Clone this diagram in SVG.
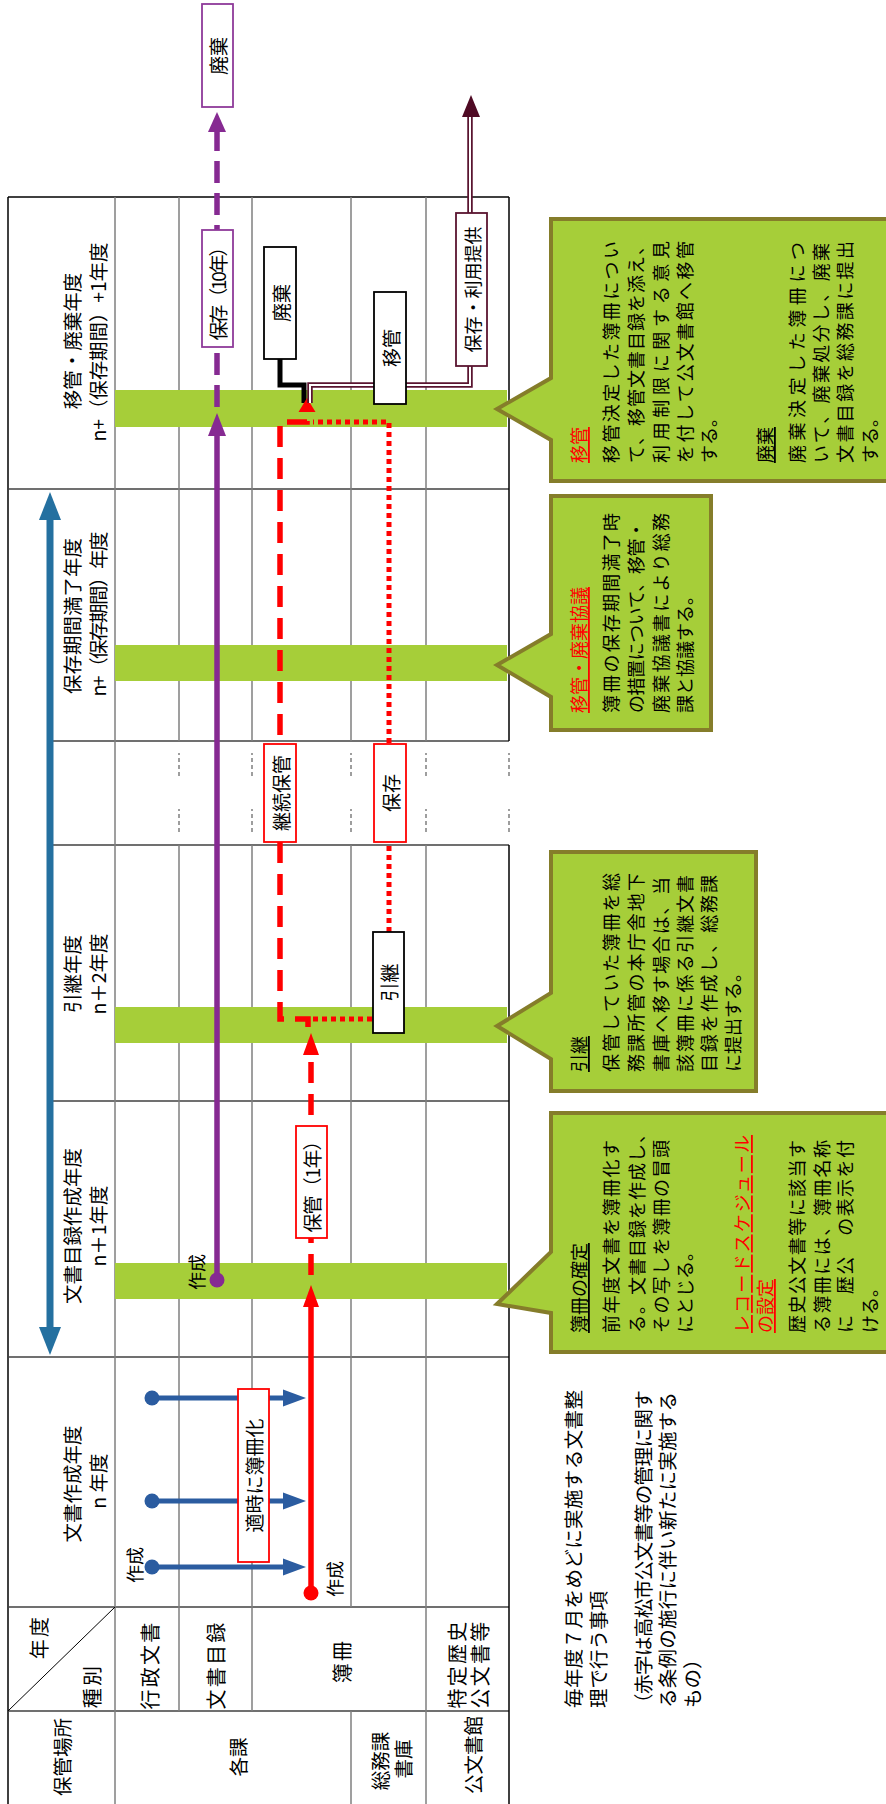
<svg xmlns="http://www.w3.org/2000/svg" width="886" height="1804" viewBox="0 0 886 1804">
<style>
text{font-family:"Noto Sans CJK JP","Noto Sans CJK SC",sans-serif;fill:#000;dominant-baseline:central}
.hd{font-size:20px;letter-spacing:2.3px;text-anchor:middle}
.hb{font-size:19.5px;text-anchor:middle}
.yr{font-size:19.5px;text-anchor:middle}
.lb{font-size:19px;text-anchor:middle}
.sm{font-size:18px;text-anchor:middle}
.ct{font-size:18px}
.red{fill:#ff0000}
.ul{text-decoration:underline}
.bd{stroke:#000;stroke-width:1.5}
.row{stroke:#404040;stroke-width:1.5}
.col{stroke:#7f7f7f;stroke-width:1.5}
.gap{stroke:#7f7f7f;stroke-width:1.5;stroke-dasharray:4 3}
.band{fill:#a6ce39}
.callout{fill:#a6ce39;stroke:#857d2a;stroke-width:4}
.box{fill:#fff;stroke-width:1.8}
.rb{stroke:#ff0000}
.kb{stroke:#000}
.pb{stroke:#8e3a9a}
.mb{stroke:#5a1430}
</style>
<rect width="886" height="1804" fill="#fff"/>
<g transform="matrix(0,-1,1,0,0,1804)">
<g id="table" fill="none">
<line class="bd" x1="0" y1="8" x2="1607" y2="8"/>
<line class="bd" x1="1607" y1="8" x2="1607" y2="509"/>
<line class="row" x1="93" y1="8" x2="93" y2="509"/>
<line class="row" x1="197" y1="8" x2="197" y2="509"/>
<line class="row" x1="447" y1="8" x2="447" y2="509"/>
<line class="row" x1="703" y1="53" x2="703" y2="509"/>
<line class="row" x1="959" y1="53" x2="959" y2="509"/>
<line class="row" x1="1063" y1="53" x2="1063" y2="509"/>
<line class="row" x1="1315" y1="8" x2="1315" y2="509"/>
<line class="col" x1="0" y1="115" x2="1607" y2="115"/>
<line class="col" x1="93" y1="179" x2="959" y2="179"/>
<line class="col" x1="1063" y1="179" x2="1607" y2="179"/>
<line class="col" x1="93" y1="252" x2="959" y2="252"/>
<line class="col" x1="1063" y1="252" x2="1607" y2="252"/>
<line class="col" x1="0" y1="351" x2="93" y2="351"/>
<line class="col" x1="197" y1="351" x2="959" y2="351"/>
<line class="col" x1="1063" y1="351" x2="1607" y2="351"/>
<line class="col" x1="0" y1="426" x2="959" y2="426"/>
<line class="col" x1="1063" y1="426" x2="1607" y2="426"/>
<line class="bd" x1="0" y1="509" x2="959" y2="509"/>
<line class="bd" x1="1063" y1="509" x2="1607" y2="509"/>
<g class="gap">
<line x1="972" y1="179" x2="995" y2="179"/><line x1="1028" y1="179" x2="1051" y2="179"/>
<line x1="972" y1="252" x2="995" y2="252"/><line x1="1028" y1="252" x2="1051" y2="252"/>
<line x1="972" y1="351" x2="995" y2="351"/><line x1="1028" y1="351" x2="1051" y2="351"/>
<line x1="972" y1="426" x2="995" y2="426"/><line x1="1028" y1="426" x2="1051" y2="426"/>
<line x1="972" y1="509" x2="995" y2="509"/><line x1="1028" y1="509" x2="1051" y2="509"/>
</g>
<line stroke="#000" stroke-width="1" x1="93" y1="8" x2="197" y2="115"/>
</g>
<g id="headers">
<text class="hd" x="167" y="38">年度</text>
<text class="hd" x="118" y="91">種別</text>
<text class="hd" x="139" y="149">行政文書</text>
<text class="hd" x="139" y="215">文書目録</text>
<text class="hd" x="143" y="341">簿冊</text>
<text class="hd" x="140" y="456">特定歴史</text>
<text class="hd" x="140" y="479">公文書等</text>
<text class="hb" x="47" y="61">保管場所</text>
<text class="hb" x="47" y="237">各課</text>
<text class="hb" x="43" y="379">総務課</text>
<text class="hb" x="45" y="402">書庫</text>
<text class="hb" x="49" y="472">公文書館</text>
<text class="yr" x="320" y="71">文書作成年度</text>
<text class="yr" x="323" y="97">n 年度</text>
<text class="yr" x="578" y="71">文書目録作成年度</text>
<text class="yr" x="578" y="97">n＋1年度</text>
<text class="yr" x="830" y="71">引継年度</text>
<text class="yr" x="830" y="97">n＋2年度</text>
<text class="yr" x="1188" y="71">保存期間満了年度</text>
<text class="yr" x="1190" y="97" textLength="165" lengthAdjust="spacing">n+（保存期間）年度</text>
<text class="yr" x="1463" y="71">移管・廃棄年度</text>
<text class="yr" x="1462" y="97" textLength="199" lengthAdjust="spacing">n+（保存期間）+1年度</text>
</g>
<g id="bands">
<rect class="band" x="505" y="115" width="36" height="392"/>
<rect class="band" x="761" y="115" width="36" height="392"/>
<rect class="band" x="1123" y="115" width="36" height="392"/>
<rect class="band" x="1377" y="115" width="37" height="392"/>
</g>
<g id="callout1">
<path class="callout" d="M452,551 L491,551 L500,497 L552,551 L691,551 L691,892 L452,892 Z"/>
<text class="ct ul" x="471" y="578">簿冊の確定</text>
<text class="ct" x="471" y="610" textLength="193" lengthAdjust="spacing">前年度文書を簿冊化す</text>
<text class="ct" x="471" y="636" textLength="208" lengthAdjust="spacing">る。文書目録を作成し、</text>
<text class="ct" x="471" y="660" textLength="193" lengthAdjust="spacing">その写しを簿冊の冒頭</text>
<text class="ct" x="471" y="684">にとじる。</text>
<text class="ct red ul" x="471" y="741" textLength="198" lengthAdjust="spacing">レコードスケジュール</text>
<text class="ct red ul" x="471" y="764">の設定</text>
<text class="ct" x="471" y="796" textLength="193" lengthAdjust="spacing">歴史公文書等に該当す</text>
<text class="ct" x="471" y="821" textLength="193" lengthAdjust="spacing">る簿冊には、簿冊名称</text>
<text class="ct" x="471" y="844" textLength="193" lengthAdjust="spacing">に　歴公　の表示を付</text>
<text class="ct" x="471" y="869">ける。</text>
</g>
<g id="callout2">
<path class="callout" d="M713,551 L745,551 L778,497 L811,551 L952,551 L952,756 L713,756 Z"/>
<text class="ct ul" x="732" y="578">引継</text>
<text class="ct" x="732" y="610" textLength="199" lengthAdjust="spacing">保管していた簿冊を総</text>
<text class="ct" x="732" y="635" textLength="199" lengthAdjust="spacing">務課所管の本庁舎地下</text>
<text class="ct" x="732" y="660" textLength="195" lengthAdjust="spacing">書庫へ移す場合は、当</text>
<text class="ct" x="732" y="684" textLength="197" lengthAdjust="spacing">該簿冊に係る引継文書</text>
<text class="ct" x="732" y="708" textLength="197" lengthAdjust="spacing">目録を作成し、総務課</text>
<text class="ct" x="732" y="732">に提出する。</text>
</g>
<g id="callout3">
<path class="callout" d="M1074,551 L1107,551 L1139,497 L1170,551 L1308,551 L1308,711 L1074,711 Z"/>
<text class="ct red ul" x="1091" y="578">移管・廃棄協議</text>
<text class="ct" x="1091" y="610" textLength="200" lengthAdjust="spacing">簿冊の保存期間満了時</text>
<text class="ct" x="1091" y="635" textLength="192" lengthAdjust="spacing">の措置について、移管・</text>
<text class="ct" x="1091" y="660" textLength="200" lengthAdjust="spacing">廃棄協議書により総務</text>
<text class="ct" x="1091" y="684">課と協議する。</text>
</g>
<g id="callout4">
<path class="callout" d="M1323,551 L1364,551 L1395,497 L1426,551 L1585,551 L1585,892 L1323,892 Z"/>
<text class="ct red ul" x="1341" y="578">移管</text>
<text class="ct" x="1341" y="610" textLength="222" lengthAdjust="spacing">移管決定した簿冊につい</text>
<text class="ct" x="1341" y="635" textLength="226" lengthAdjust="spacing">て、移管文書目録を添え、</text>
<text class="ct" x="1341" y="660" textLength="222" lengthAdjust="spacing">利用制限に関する意見</text>
<text class="ct" x="1341" y="684" textLength="222" lengthAdjust="spacing">を付して公文書館へ移管</text>
<text class="ct" x="1341" y="708">する。</text>
<text class="ct ul" x="1341" y="764">廃棄</text>
<text class="ct" x="1341" y="796" textLength="221" lengthAdjust="spacing">廃棄決定した簿冊につ</text>
<text class="ct" x="1341" y="820" textLength="220" lengthAdjust="spacing">いて、廃棄処分し、廃棄</text>
<text class="ct" x="1341" y="844" textLength="222" lengthAdjust="spacing">文書目録を総務課に提出</text>
<text class="ct" x="1341" y="869">する。</text>
</g>
<g id="note">
<text class="ct" style="font-size:19.5px" x="96" y="572" textLength="318" lengthAdjust="spacing">毎年度７月をめどに実施する文書整</text>
<text class="ct" style="font-size:19.5px" x="96" y="597">理で行う事項</text>
<text class="ct" style="font-size:19.5px" x="91" y="642" textLength="323" lengthAdjust="spacing">（赤字は高松市公文書等の管理に関す</text>
<text class="ct" style="font-size:19.5px" x="96" y="666" textLength="316" lengthAdjust="spacing">る条例の施行に伴い新たに実施する</text>
<text class="ct" style="font-size:19.5px" x="96" y="691">もの）</text>
</g>
<g id="connectors">
<g id="period-arrow" fill="#2470a0">
<line x1="470" y1="50" x2="1290" y2="50" stroke="#2470a0" stroke-width="7"/>
<polygon points="449,50 477,39 477,61"/>
<polygon points="1312,50 1284,39 1284,61"/>
</g>
<g fill="#2b5ca0" stroke="#2b5ca0">
<circle cx="406" cy="152" r="7.5" stroke="none"/><line x1="406" y1="152" x2="406" y2="285" stroke-width="5"/><polygon points="406,306 397.5,283 414.5,283" stroke="none"/>
<circle cx="303" cy="152" r="7.5" stroke="none"/><line x1="303" y1="152" x2="303" y2="285" stroke-width="5"/><polygon points="303,306 294.5,283 311.5,283" stroke="none"/>
<circle cx="237" cy="152" r="7.5" stroke="none"/><line x1="237" y1="152" x2="237" y2="285" stroke-width="5"/><polygon points="237,306 228.5,283 245.5,283" stroke="none"/>
</g>
<g fill="#ff0000">
<circle cx="211" cy="311" r="7.5"/>
<line x1="211" y1="311" x2="499" y2="311" stroke="#ff0000" stroke-width="5.5"/>
<polygon points="519,311 497,303 497,319"/>
<line x1="529" y1="311" x2="750" y2="311" stroke="#ff0000" stroke-width="5.5" stroke-dasharray="21 11"/>
<polygon points="771,311 749,303 749,319"/>
<path d="M777,308 L785,308 L785,280 L1382,280 L1382,307 L1394,307" fill="none" stroke="#ff0000" stroke-width="5.5" stroke-dasharray="21 11"/>
<path d="M785,313 L785,373 M872,389 L1382,389 L1382,313" fill="none" stroke="#ff0000" stroke-width="5" stroke-dasharray="5 4"/>
</g>
<path d="M1445,280 L1419,280 L1419,304 L1401,304" fill="none" stroke="#000" stroke-width="5"/>
<polygon points="1406,307 1392,298.5 1392,315.5" fill="#ff0000"/>
<path d="M1401,310 L1419,310 L1419,470 L1688,470" fill="none" stroke="#5a1430" stroke-width="5.5"/>
<path d="M1401,310 L1419,310 L1419,470 L1688,470" fill="none" stroke="#fff" stroke-width="2"/>
<polygon points="1709,471 1687,462 1687,480" fill="#4f0a24"/>
<g fill="#862a92">
<circle cx="524" cy="217" r="7.5"/>
<line x1="524" y1="217" x2="1370" y2="217" stroke="#862a92" stroke-width="5.5"/>
<polygon points="1391,217 1368,208 1368,226"/>
<line x1="1397" y1="217" x2="1673" y2="217" stroke="#862a92" stroke-width="5.5" stroke-dasharray="22 10"/>
<polygon points="1692,217 1672,208 1672,226"/>
</g>
<text class="sm" x="239" y="134">作成</text>
<text class="sm" x="225" y="334">作成</text>
<text class="sm" x="532" y="196">作成</text>
</g>
<g id="node-tekiji"><rect class="box rb" x="242" y="238" width="173" height="31"/><text class="lb" x="328.5" y="253.5">適時に簿冊化</text></g>
<g id="node-hokan1"><rect class="box rb" x="566" y="296" width="112" height="31"/><text class="lb" x="622" y="311.5" textLength="101" lengthAdjust="spacing">保管（1年）</text></g>
<g id="node-hikitsugi"><rect class="box kb" x="771" y="373" width="101" height="31"/><text class="lb" x="821.5" y="388.5">引継</text></g>
<g id="node-keizoku"><rect class="box rb" x="962" y="264" width="98" height="32"/><text class="lb" x="1011" y="280">継続保管</text></g>
<g id="node-hozon"><rect class="box rb" x="962" y="374" width="98" height="32"/><text class="lb" x="1011" y="390">保存</text></g>
<g id="node-haiki"><rect class="box kb" x="1445" y="264" width="112" height="32"/><text class="lb" x="1501" y="280">廃棄</text></g>
<g id="node-ikan"><rect class="box kb" x="1400" y="374" width="112" height="32"/><text class="lb" x="1456" y="390">移管</text></g>
<g id="node-riyou"><rect class="box mb" x="1438" y="456" width="153" height="31"/><text class="lb" x="1514.5" y="471.5" style="font-size:18px">保存・利用提供</text></g>
<g id="node-hozon10"><rect class="box pb" x="1457" y="202" width="117" height="31"/><text class="lb" x="1515" y="217.5" textLength="103" lengthAdjust="spacing">保存（10年）</text></g>
<g id="node-haiki2"><rect class="box pb" x="1697" y="202" width="103" height="31"/><text class="lb" x="1748" y="217.5">廃棄</text></g>
</g>
</svg>
